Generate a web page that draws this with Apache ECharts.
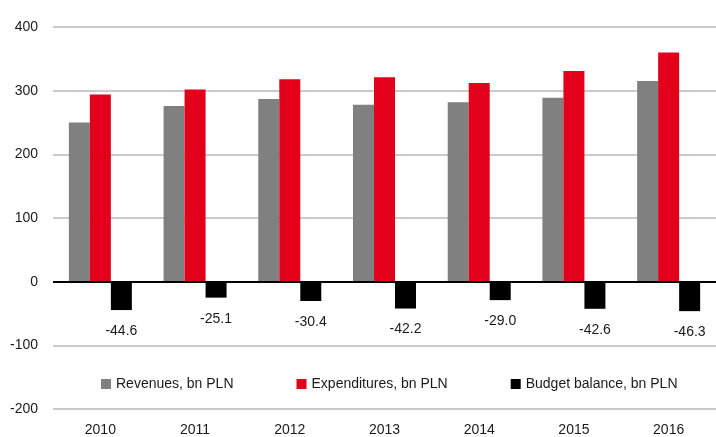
<!DOCTYPE html>
<html>
<head>
<meta charset="utf-8">
<script src="https://cdn.jsdelivr.net/npm/echarts@6/dist/echarts.min.js"></script>
<style>
html,body{margin:0;padding:0;background:#fff;}
#chart{width:716px;height:437px;}
</style>
</head>
<body>
<div id="chart"></div>
<script>
const categories = ['2010','2011','2012','2013','2014','2015','2016'];
const revenues = [250, 276, 287, 278, 282, 289, 315];
const expenditures = [294, 302, 318, 321, 312, 331, 360];
const balance = [-44.6, -25.1, -30.4, -42.2, -29.0, -42.6, -46.3];
const yTicks = { min: -200, max: 400, interval: 100 };

const FONT = '"Liberation Sans", Arial, sans-serif';
const chart = echarts.init(document.getElementById('chart'), null, { renderer: 'canvas' });
chart.setOption({
  animation: false,
  backgroundColor: '#ffffff',
  textStyle: { fontFamily: FONT },
  grid: { left: 53, right: 0, top: 27, bottom: 27, containLabel: false },
  legend: {
    left: 96, top: 372,
    itemWidth: 10, itemHeight: 10, itemGap: 63,
    icon: 'rect',
    textStyle: { fontFamily: FONT, fontSize: 14, color: '#1a1a1a' },
    data: ['Revenues, bn PLN', 'Expenditures, bn PLN', 'Budget balance, bn PLN']
  },
  xAxis: {
    type: 'category',
    data: categories,
    axisLine: { show: false },
    axisTick: { show: false },
    axisLabel: { fontFamily: FONT, fontSize: 14, color: '#1a1a1a', margin: 14 }
  },
  yAxis: {
    type: 'value',
    min: yTicks.min, max: yTicks.max, interval: yTicks.interval,
    axisLine: { show: false },
    axisTick: { show: false },
    axisLabel: { fontFamily: FONT, fontSize: 14, color: '#1a1a1a', margin: 15 },
    splitLine: { lineStyle: { color: '#b8b8b8', width: 1.5 } }
  },
  series: [
    {
      name: 'Revenues, bn PLN', type: 'bar', data: revenues,
      barWidth: 21, barGap: '0%',
      itemStyle: { color: '#808080' }
    },
    {
      name: 'Expenditures, bn PLN', type: 'bar', data: expenditures,
      barWidth: 21, barGap: '0%',
      itemStyle: { color: '#e2001a' }
    },
    {
      name: 'Budget balance, bn PLN', type: 'bar', data: balance,
      barWidth: 21, barGap: '0%',
      itemStyle: { color: '#000000' },
      label: {
        show: true, position: 'bottom', distance: 14,
        fontFamily: FONT, fontSize: 14, color: '#1a1a1a',
        formatter: p => p.value.toFixed(1)
      },
      markLine: {
        silent: true, symbol: 'none',
        label: { show: false },
        lineStyle: { color: '#000', width: 2, type: 'solid' },
        data: [{ yAxis: 0 }]
      }
    }
  ]
});
</script>
</body>
</html>
